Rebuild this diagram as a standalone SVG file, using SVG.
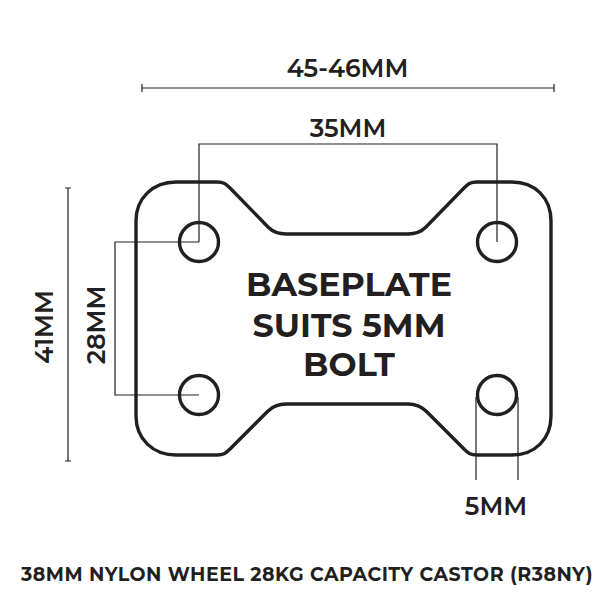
<svg xmlns="http://www.w3.org/2000/svg" width="600" height="600" viewBox="0 0 600 600">
<style>
.o{fill:none;stroke:#231f20;stroke-width:3.4;stroke-linejoin:round}
.h{fill:none;stroke:#231f20;stroke-width:3.4}
.d{fill:none;stroke:#231f20;stroke-width:1.2}
text{font-family:Montserrat,"Inter","Noto Sans",sans-serif;font-weight:600;fill:#231f20;text-anchor:middle}
.b{font-weight:700;font-size:33.300px}
.m{font-size:25px}
</style>
<rect width="600" height="600" fill="#fff"/>
<g id="connectors">
<path class="d" d="M142 84V92M142 88H554M554 84V92"/>
<path class="d" d="M199 242V144H497V242"/>
<path class="d" d="M65 188H71M68 188V461M65 461H71"/>
<path class="d" d="M199 242H115V395H199"/>
<path class="d" d="M476 397V480M518 397V480"/>
</g>
<g id="baseplate">
<path class="o" d="M176 182H217C224 182 226 184 230 188L268 227C273 232 278 234 286 234H408C416 234 421 232 426 227L464 188C468 184 470 182 477 182H512C535 182 551 198 551 221V416C551 439 535 455 512 455H477C470 455 468 453 464 449L426 411C421 406 416 404 408 404H286C278 404 273 406 268 411L230 449C226 453 224 455 217 455H176C153 455 136 439 136 416V221C136 198 153 182 176 182Z"/>
</g>
<g id="hole-tl"><circle class="h" cx="199" cy="242" r="19.500"/></g>
<g id="hole-tr"><circle class="h" cx="497" cy="242" r="19.500"/></g>
<g id="hole-bl"><circle class="h" cx="199" cy="395" r="19.500"/></g>
<g id="hole-br"><circle class="h" cx="497" cy="395" r="19.500"/></g>
<g id="labels">
<text class="b" x="349" y="296">BASEPLATE</text>
<text class="b" x="349" y="337">SUITS 5MM</text>
<text class="b" x="349" y="376">BOLT</text>
<text class="m" x="347.500" y="76.500">45-46MM</text>
<text class="m" x="348" y="137">35MM</text>
<text class="m" x="496" y="515">5MM</text>
<text class="m" transform="translate(53 327) rotate(-90)">41MM</text>
<text class="m" transform="translate(105 325) rotate(-90)">28MM</text>
<text x="307" y="581" style="font-size:19px;font-weight:700;letter-spacing:.5px">38MM NYLON WHEEL 28KG CAPACITY CASTOR (R38NY)</text>
</g>
</svg>
